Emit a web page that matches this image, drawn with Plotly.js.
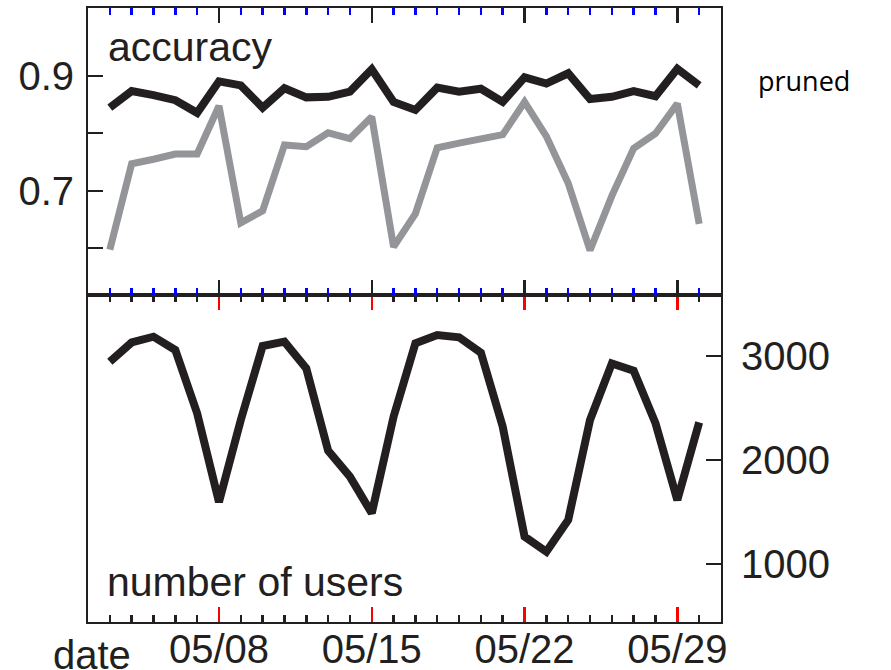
<!DOCTYPE html>
<html>
<head>
<meta charset="utf-8">
<script src="https://cdn.plot.ly/plotly-3.0.1.min.js"></script>
<style>
body{margin:0;padding:0;background:#fff;}
#chart{width:891px;height:670px;}
.scatterlayer path.js-line{stroke-linejoin:miter;}
</style>
</head>
<body>
<div id="chart"></div>
<script>
const dates = ['2013-05-03','2013-05-04','2013-05-05','2013-05-06','2013-05-07','2013-05-08','2013-05-09',
  '2013-05-10','2013-05-11','2013-05-12','2013-05-13','2013-05-14','2013-05-15','2013-05-16',
  '2013-05-17','2013-05-18','2013-05-19','2013-05-20','2013-05-21','2013-05-22','2013-05-23',
  '2013-05-24','2013-05-25','2013-05-26','2013-05-27','2013-05-28','2013-05-29','2013-05-30'];
const accuracyPruned = [0.845,0.874,0.867,0.858,0.836,0.891,0.884,0.845,0.879,0.863,0.864,0.873,0.912,0.855,
  0.841,0.880,0.873,0.878,0.855,0.898,0.887,0.905,0.860,0.864,0.874,0.865,0.913,0.884];
const accuracyOther = [0.597,0.747,0.755,0.764,0.764,0.848,0.644,0.665,0.780,0.777,0.801,0.791,0.829,0.602,
  0.660,0.775,0.783,0.790,0.798,0.855,0.795,0.713,0.596,0.691,0.774,0.800,0.852,0.642];
const users = [2945,3131,3186,3058,2449,1596,2385,3096,3138,2881,2090,1840,1488,2417,
  3122,3202,3180,3032,2320,1263,1118,1423,2385,2929,2859,2353,1615,2362];
const majorTickDates = ['2013-05-08','2013-05-15','2013-05-22','2013-05-29'];
const majorTickLabels = ['05/08','05/15','05/22','05/29'];
const accTickVals = [0.6,0.7,0.8,0.9];
const accTickText = ['','0.7','','0.9'];
const userTickVals = [1000,2000,3000];
const userTickText = ['1000','2000','3000'];

const ink = '#231f20';
const gray = '#939598';
const font = 'Liberation Sans, Arial, sans-serif';
const xRange = ['2013-05-02','2013-05-31'];

const traces = [
  {x: dates, y: accuracyOther, xaxis:'x2', yaxis:'y', mode:'lines', line:{color:gray, width:7}, hoverinfo:'skip'},
  {x: dates, y: accuracyPruned, xaxis:'x2', yaxis:'y', mode:'lines', line:{color:ink, width:8}, hoverinfo:'skip'},
  {x: dates, y: users, xaxis:'x', yaxis:'y2', mode:'lines', line:{color:ink, width:8}, hoverinfo:'skip'}
];

function xax(extra, c1, c2) {
  return Object.assign({
    type:'date', range:xRange, showgrid:false, zeroline:false,
    showline:true, linecolor:ink, linewidth:2, mirror:'ticks',
    ticks:'inside', ticklen:15, tickwidth:2.5, tickcolor:c1,
    tickmode:'array', tickvals: majorTickDates, ticktext: majorTickLabels,
    showticklabels:false, domain:[0,1],
    minor:{ticks:'inside', ticklen:7, tickwidth:2.5, tickcolor:c2, dtick:86400000, tick0:'2013-05-02', showgrid:false}
  }, extra);
}

const layout = {
  width:891, height:670,
  margin:{l:88, r:170, t:8, b:48},
  paper_bgcolor:'#fff', plot_bgcolor:'#fff',
  showlegend:false,
  font:{family:font, color:ink, size:40},
  xaxis: xax({anchor:'y2', side:'bottom', showticklabels:true,
    tickfont:{family:font, size:40, color:ink}, ticklabelstandoff:-9}, 'red', ink),
  xaxis2: xax({anchor:'y', side:'bottom'}, ink, 'blue'),
  yaxis: {domain:[0.5326,1], anchor:'x2', range:[0.518,1.019], showgrid:false, zeroline:false,
    showline:true, linecolor:ink, linewidth:2, mirror:true,
    ticks:'inside', ticklen:15, tickwidth:2, tickcolor:ink,
    tickmode:'array', tickvals:accTickVals, ticktext:accTickText,
    tickfont:{family:font, size:40, color:ink}, ticklabelstandoff:4},
  yaxis2: {domain:[0,0.5326], anchor:'x', side:'right', range:[442,3587], showgrid:false, zeroline:false,
    showline:true, linecolor:ink, linewidth:2, mirror:true,
    ticks:'inside', ticklen:15, tickwidth:2, tickcolor:ink,
    tickmode:'array', tickvals:userTickVals, ticktext:userTickText,
    tickfont:{family:font, size:40, color:ink}, ticklabelstandoff:10},
  annotations:[
    {text:'accuracy', xref:'paper', yref:'paper', x:0.028, y:0.9365, xanchor:'left', yanchor:'middle',
      showarrow:false, font:{family:font, size:41, color:ink}},
    {text:'number of users', xref:'paper', yref:'paper', x:0.027, y:0.065, xanchor:'left', yanchor:'middle',
      showarrow:false, font:{family:font, size:41, color:ink}},
    {text:'pruned', xref:'paper', yref:'paper', x:1.055, y:0.8827, xanchor:'left', yanchor:'middle',
      showarrow:false, font:{family:'Open Sans, sans-serif', size:27, color:'#000'}},
    {text:'date', xref:'paper', yref:'paper', x:0.006, y:-0.053, xanchor:'center', yanchor:'middle',
      borderpad:0, showarrow:false, font:{family:font, size:40, color:ink}}
  ]
};

Plotly.newPlot('chart', traces, layout, {staticPlot:true, displayModeBar:false});
</script>
</body>
</html>
